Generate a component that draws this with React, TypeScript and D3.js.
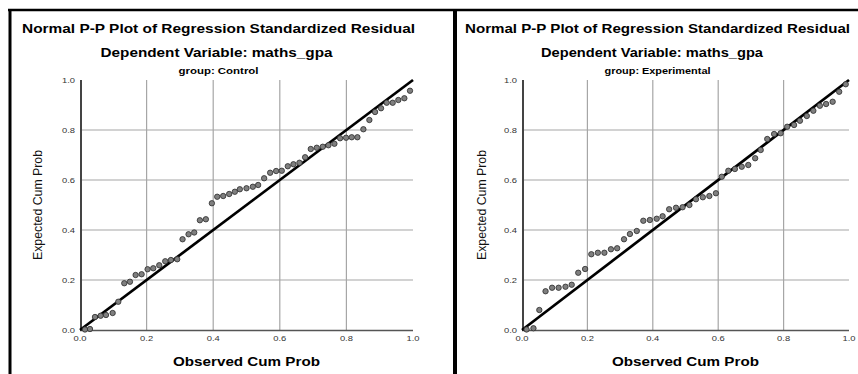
import React from 'react';
import * as d3 from 'd3';

// group: Control
const controlObserved = [0.015, 0.03, 0.045, 0.062, 0.078, 0.098, 0.115, 0.133, 0.15, 0.167, 0.185, 0.203, 0.22, 0.238, 0.256, 0.273, 0.292, 0.308, 0.326, 0.343, 0.36, 0.378, 0.396, 0.412, 0.43, 0.448, 0.465, 0.48, 0.5, 0.519, 0.535, 0.553, 0.571, 0.589, 0.606, 0.624, 0.641, 0.659, 0.676, 0.693, 0.711, 0.729, 0.746, 0.764, 0.781, 0.799, 0.816, 0.833, 0.851, 0.869, 0.886, 0.904, 0.921, 0.939, 0.956, 0.974, 0.991];
const controlExpected = [0.002, 0.004, 0.052, 0.057, 0.06, 0.068, 0.113, 0.187, 0.193, 0.22, 0.223, 0.243, 0.247, 0.259, 0.275, 0.28, 0.283, 0.363, 0.383, 0.39, 0.439, 0.443, 0.507, 0.533, 0.536, 0.544, 0.553, 0.563, 0.567, 0.573, 0.58, 0.607, 0.629, 0.636, 0.637, 0.655, 0.663, 0.669, 0.691, 0.724, 0.729, 0.733, 0.739, 0.745, 0.767, 0.769, 0.771, 0.771, 0.803, 0.84, 0.872, 0.887, 0.909, 0.909, 0.92, 0.927, 0.957];

// group: Experimental
const expObserved = [0.014, 0.035, 0.053, 0.072, 0.092, 0.112, 0.133, 0.152, 0.172, 0.193, 0.212, 0.232, 0.252, 0.272, 0.291, 0.312, 0.33, 0.351, 0.371, 0.391, 0.412, 0.43, 0.45, 0.471, 0.491, 0.512, 0.532, 0.553, 0.573, 0.593, 0.611, 0.631, 0.651, 0.672, 0.692, 0.713, 0.73, 0.75, 0.771, 0.791, 0.811, 0.832, 0.85, 0.871, 0.891, 0.911, 0.93, 0.95, 0.97, 0.99];
const expExpected = [0.002, 0.007, 0.08, 0.155, 0.169, 0.169, 0.173, 0.181, 0.229, 0.244, 0.303, 0.309, 0.309, 0.323, 0.327, 0.363, 0.384, 0.396, 0.437, 0.44, 0.445, 0.455, 0.483, 0.489, 0.491, 0.5, 0.523, 0.531, 0.536, 0.547, 0.613, 0.637, 0.644, 0.653, 0.66, 0.687, 0.72, 0.764, 0.784, 0.787, 0.813, 0.82, 0.837, 0.856, 0.877, 0.897, 0.904, 0.913, 0.953, 0.983];

const ticks = [0, 0.2, 0.4, 0.6, 0.8, 1.0];
const gridTicks = [0.2, 0.4, 0.6, 0.8];

const titleText = 'Normal P-P Plot of Regression Standardized Residual';
const subtitleText = 'Dependent Variable: maths_gpa';
const xTitle = 'Observed Cum Prob';
const yTitle = 'Expected Cum Prob';

const FONT = '"Liberation Sans", Arial, sans-serif';

type PanelProps = {
  group: string;
  observed: number[];
  expected: number[];
  plotLeft: number;
  plotRight: number;
  titleX: number;
  titleW: number;
  subX: number;
  subW: number;
  groupW: number;
  yTitleX: number;
};

const Panel = (p: PanelProps) => {
  const top = 80;
  const bottom = 330;
  const x = d3.scaleLinear().domain([0, 1]).range([p.plotLeft, p.plotRight]);
  const y = d3.scaleLinear().domain([0, 1]).range([bottom, top]);
  const pts = p.observed.map((o, i) => [o, p.expected[i]]);
  const midX = (p.plotLeft + p.plotRight) / 2;

  return (
    <g fontFamily={FONT}>
      <text x={p.titleX} y={33} textAnchor="middle" fontSize={12.5} fontWeight="bold"
        textLength={p.titleW} lengthAdjust="spacingAndGlyphs">{titleText}</text>
      <text x={p.subX} y={57} textAnchor="middle" fontSize={12.5} fontWeight="bold"
        textLength={p.subW} lengthAdjust="spacingAndGlyphs">{subtitleText}</text>
      <text x={p.titleX} y={74} textAnchor="middle" fontSize={8.5} fontWeight="bold"
        textLength={p.groupW} lengthAdjust="spacingAndGlyphs">{'group: ' + p.group}</text>

      {/* grid */}
      {gridTicks.map(t => (
        <line key={'v' + t} x1={x(t)} x2={x(t)} y1={top} y2={bottom} stroke="#a6a6a6" strokeWidth={1.2} />
      ))}
      {gridTicks.map(t => (
        <line key={'h' + t} x1={p.plotLeft} x2={p.plotRight} y1={y(t)} y2={y(t)} stroke="#a6a6a6" strokeWidth={1.2} />
      ))}

      {/* axes */}
      <line x1={p.plotLeft} x2={p.plotRight} y1={bottom + 0.5} y2={bottom + 0.5} stroke="#555" strokeWidth={1.5} />
      <line x1={p.plotLeft + 1} x2={p.plotLeft + 1} y1={top} y2={bottom + 1} stroke="#444" strokeWidth={2} />

      {ticks.map(t => (
        <text key={'yl' + t} x={p.plotLeft - 5} y={y(t) + 3} textAnchor="end" fontSize={8} fill="#333"
          textLength={13} lengthAdjust="spacingAndGlyphs">{t.toFixed(1)}</text>
      ))}
      {ticks.map(t => (
        <text key={'xl' + t} x={x(t)} y={341} textAnchor="middle" fontSize={8} fill="#333"
          textLength={13} lengthAdjust="spacingAndGlyphs">{t.toFixed(1)}</text>
      ))}

      <text x={midX} y={366} textAnchor="middle" fontSize={12} fontWeight="bold"
        textLength={147} lengthAdjust="spacingAndGlyphs">{xTitle}</text>
      <text transform={`translate(${p.yTitleX},${(top + bottom) / 2}) rotate(-90)`} textAnchor="middle"
        fontSize={12} fill="#111" textLength={110} lengthAdjust="spacingAndGlyphs">{yTitle}</text>

      {/* reference line */}
      <line x1={x(0)} y1={y(0)} x2={x(1)} y2={y(1)} stroke="#000" strokeWidth={2.7} />

      {pts.map((d, i) => (
        <circle key={i} cx={x(d[0])} cy={y(d[1])} r={2.7} fill="#7f7f7f" stroke="#2b2b2b" strokeWidth={0.8} />
      ))}
    </g>
  );
};

export default function App() {
  return (
    <svg width={858} height={374} style={{ position: 'absolute', left: 0, top: 0, background: '#fff' }}>
      <rect width={858} height={374} fill="#fff" />
      {/* frame */}
      <line x1={8} x2={858} y1={10} y2={10} stroke="#000" strokeWidth={2.5} />
      <line x1={10} x2={10} y1={9} y2={374} stroke="#000" strokeWidth={3} />
      <line x1={455} x2={455} y1={9} y2={374} stroke="#000" strokeWidth={4} />

      <Panel group="Control" observed={controlObserved} expected={controlExpected}
        plotLeft={80} plotRight={413} titleX={218.5} titleW={393} subX={216.5} subW={232}
        groupW={80} yTitleX={42} />
      <Panel group="Experimental" observed={expObserved} expected={expExpected}
        plotLeft={522} plotRight={849} titleX={657.5} titleW={385} subX={652} subW={222}
        groupW={106} yTitleX={486} />
    </svg>
  );
}
